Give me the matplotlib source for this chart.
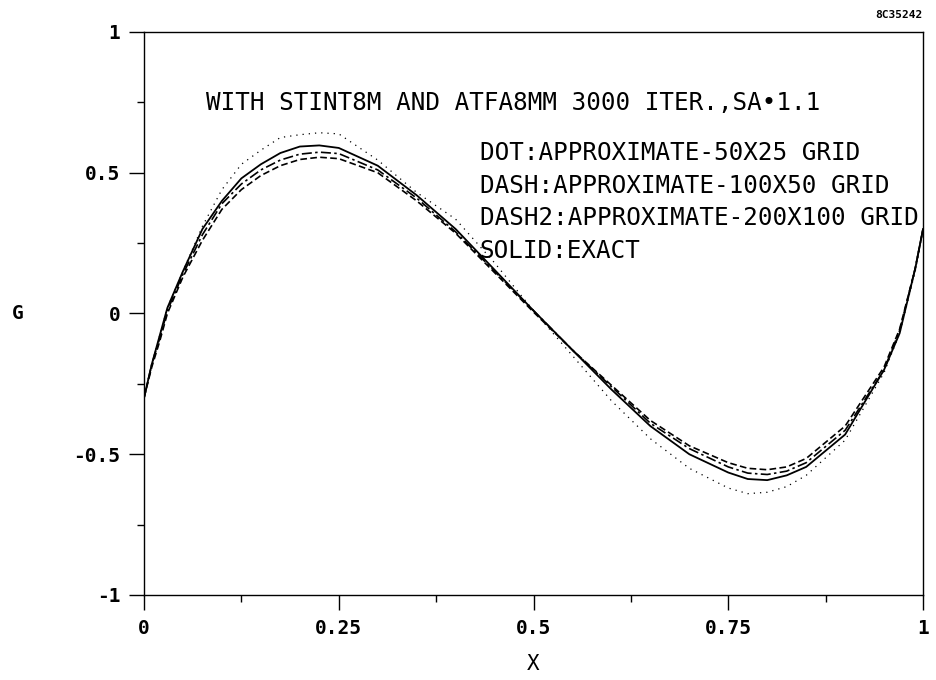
import matplotlib
matplotlib.use("Agg")
from matplotlib import pyplot as plt
from matplotlib.ticker import MultipleLocator, FixedLocator

# values
x_pts = [0, 0.01, 0.02, 0.03, 0.05, 0.075, 0.1, 0.125, 0.15, 0.175, 0.2, 0.225,
         0.25, 0.3, 0.35, 0.4, 0.45, 0.5, 0.55, 0.6, 0.65, 0.7, 0.75, 0.775,
         0.8, 0.825, 0.85, 0.9, 0.95, 0.97, 0.99, 1.0]

g_exact = [-0.30, -0.18, -0.08, 0.02, 0.15, 0.30, 0.40, 0.48, 0.53, 0.57, 0.593, 0.597,
           0.588, 0.525, 0.42, 0.30, 0.155, 0.01, -0.13, -0.27, -0.40, -0.50, -0.565, -0.588,
           -0.592, -0.575, -0.545, -0.43, -0.20, -0.07, 0.16, 0.30]

g_dot = [-0.30, -0.18, -0.08, 0.02, 0.15, 0.31, 0.44, 0.53, 0.58, 0.625, 0.635, 0.642,
         0.638, 0.545, 0.43, 0.335, 0.18, 0.01, -0.15, -0.31, -0.445, -0.55, -0.62, -0.64,
         -0.635, -0.615, -0.575, -0.45, -0.21, -0.07, 0.15, 0.30]

g_dash = [-0.30, -0.19, -0.10, 0.0, 0.13, 0.26, 0.37, 0.44, 0.49, 0.525, 0.547, 0.555,
          0.55, 0.50, 0.40, 0.285, 0.145, 0.005, -0.13, -0.255, -0.38, -0.47, -0.53, -0.55,
          -0.555, -0.545, -0.515, -0.40, -0.19, -0.055, 0.16, 0.30]

g_dash2 = [-0.30, -0.18, -0.09, 0.01, 0.14, 0.28, 0.39, 0.46, 0.51, 0.545, 0.566, 0.573,
           0.568, 0.51, 0.41, 0.29, 0.15, 0.01, -0.13, -0.26, -0.39, -0.48, -0.545, -0.567,
           -0.572, -0.56, -0.53, -0.415, -0.20, -0.06, 0.16, 0.30]

x_ticks = [0, 0.25, 0.5, 0.75, 1]
x_labels = ["0", "0.25", "0.5", "0.75", "1"]
y_ticks = [-1, -0.5, 0, 0.5, 1]
y_labels = ["-1", "-0.5", "0", "0.5", "1"]

title_txt = "WITH STINT8M AND ATFA8MM 3000 ITER.,SA\u20221.1"
legend_txt = ["DOT:APPROXIMATE-50X25 GRID",
              "DASH:APPROXIMATE-100X50 GRID",
              "DASH2:APPROXIMATE-200X100 GRID",
              "SOLID:EXACT"]

MONO = "DejaVu Sans Mono"

fig = plt.figure(figsize=(9.37, 6.8), dpi=100)
ax = fig.add_axes([0.1537, 0.125, 0.8314, 0.828])

ax.plot(x_pts, g_dot, color="black", lw=0.9, linestyle=(0, (1, 4)))
ax.plot(x_pts, g_dash, color="black", lw=1.2, linestyle=(0, (4, 2)))
ax.plot(x_pts, g_dash2, color="black", lw=1.2, linestyle=(0, (6, 2, 1.5, 2)))
ax.plot(x_pts, g_exact, color="black", lw=1.3)

ax.set_xlim(0, 1)
ax.set_ylim(-1, 1)

ax.set_xticks(x_ticks)
ax.set_xticklabels(x_labels, family=MONO, fontsize=14, fontweight="bold")
ax.xaxis.set_minor_locator(FixedLocator([0.125, 0.375, 0.625, 0.875]))
ax.set_yticks(y_ticks)
ax.set_yticklabels(y_labels, family=MONO, fontsize=14, fontweight="bold")
ax.yaxis.set_minor_locator(MultipleLocator(0.25))

ax.tick_params(which="major", direction="out", length=11, width=1.0, pad=6)
ax.tick_params(axis="y", which="major", pad=6)
ax.tick_params(which="minor", direction="out", length=5, width=1.0)
for s in ax.spines.values():
    s.set_linewidth(1.0)

ax.set_xlabel("X", family=MONO, fontsize=15, labelpad=12)
ax.set_ylabel("G", family=MONO, fontsize=14, fontweight="bold", rotation=0,
              labelpad=40, va="center")

ax.text(0.08, 0.747, title_txt, family=MONO, fontsize=17.5, ha="left", va="center")
for i, line in enumerate(legend_txt):
    ax.text(0.431, 0.569 - i * 0.1155, line, family=MONO, fontsize=17.5,
            ha="left", va="center", clip_on=False)

fig.text(0.985, 0.985, "8C35242", family=MONO, fontsize=8, fontweight="bold",
         ha="right", va="top")

fig.savefig("out.png", dpi=100)
